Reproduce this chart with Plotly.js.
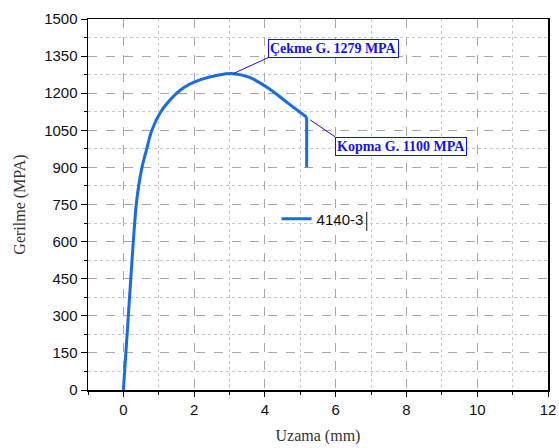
<!DOCTYPE html>
<html>
<head>
<meta charset="utf-8">
<script src="https://cdn.plot.ly/plotly-3.0.1.min.js"></script>
<style>html,body{margin:0;padding:0;background:#fff;}#chart{width:559px;height:448px;}</style>
</head>
<body>
<div id="chart"></div>
<script>
// Data
const seriesName = "4140-3";
const uzama = [0, 0.14, 0.28, 0.38, 0.52, 0.66, 0.80, 1.04, 1.32, 1.70, 2.20, 2.70, 3.10, 3.55, 4.10, 4.65, 5.18, 5.18];
const gerilme = [0, 300, 600, 770, 896, 975, 1048, 1121, 1173, 1222, 1256, 1274, 1279, 1265, 1220, 1160, 1103, 900];
const cekme = {x: 3.1, y: 1279, label: "Çekme G. 1279 MPA"};
const kopma = {x: 5.28, y: 1092, label: "Kopma G. 1100 MPA"};
const xTitle = "Uzama (mm)";
const yTitle = "Gerilme (MPA)";

const blue = "#1a6be0";
const annBlue = "#1414e6";

const n = uzama.length;
const traceMain = {
  x: uzama.slice(0, n - 1), y: gerilme.slice(0, n - 1), type: "scatter", mode: "lines", name: seriesName,
  line: {color: blue, width: 3, shape: "spline", smoothing: 1}, legendgroup: "a"
};
const traceDrop = {
  x: uzama.slice(n - 2), y: gerilme.slice(n - 2), type: "scatter", mode: "lines", name: seriesName,
  line: {color: blue, width: 3}, showlegend: false, legendgroup: "a"
};

const annFont = {family: "Liberation Serif, Times New Roman, serif", size: 14, color: annBlue, weight: "bold"};

const layout = {
  width: 559, height: 448,
  margin: {l: 88, r: 11, t: 19, b: 58},
  paper_bgcolor: "#fff", plot_bgcolor: "#fff",
  font: {family: "Liberation Sans, Arial, sans-serif", size: 15, color: "#111"},
  showlegend: true,
  legend: {x: 0.41, xanchor: "left", y: 0.461, yanchor: "middle", bgcolor: "rgba(0,0,0,0)",
           font: {family: "Liberation Sans, Arial, sans-serif", size: 15, color: "#111"}},
  xaxis: {
    range: [-1, 12], tick0: 0, dtick: 2, ticks: "outside", ticklen: 5, tickcolor: "#000",
    showline: true, linecolor: "#000", linewidth: 1.5, mirror: true,
    showgrid: true, gridcolor: "#a8a8a8", griddash: "dash", gridwidth: 1, zeroline: false,
    minor: {dtick: 1, ticks: "outside", ticklen: 3, tickcolor: "#000", showgrid: true, gridcolor: "#c8c8c8", griddash: "dot"},
    title: {text: xTitle, font: {family: "Liberation Serif, Times New Roman, serif", size: 16, color: "#333"}, standoff: 13}
  },
  yaxis: {
    range: [0, 1500], tick0: 0, dtick: 150, ticks: "outside", ticklen: 6, tickcolor: "#000",
    showline: true, linecolor: "#000", linewidth: 1.5, mirror: true,
    showgrid: true, gridcolor: "#a8a8a8", griddash: "dash", gridwidth: 1, zeroline: false,
    minor: {dtick: 75, ticks: "outside", ticklen: 3, tickcolor: "#000", showgrid: true, gridcolor: "#c8c8c8", griddash: "dot"},
    title: {text: yTitle, font: {family: "Liberation Serif, Times New Roman, serif", size: 16, color: "#333"}, standoff: 14}
  },
  annotations: [
    {x: cekme.x, y: cekme.y, xref: "x", yref: "y", text: cekme.label, showarrow: true,
     arrowhead: 0, arrowwidth: 1, arrowcolor: annBlue, ax: 35, ay: -16,
     xanchor: "left", yanchor: "bottom", bordercolor: annBlue, borderwidth: 1, borderpad: 1,
     bgcolor: "#fff", font: annFont},
    {x: kopma.x, y: kopma.y, xref: "x", yref: "y", text: kopma.label, showarrow: true,
     arrowhead: 0, arrowwidth: 1, arrowcolor: annBlue, ax: 25, ay: 17,
     xanchor: "left", yanchor: "top", bordercolor: annBlue, borderwidth: 1, borderpad: 1,
     bgcolor: "#fff", font: annFont}
  ],
  shapes: [
    {type: "line", xref: "paper", yref: "paper", x0: 0.606, x1: 0.606, y0: 0.429, y1: 0.48,
     line: {color: "#111", width: 1}}
  ]
};

Plotly.newPlot("chart", [traceMain, traceDrop], layout, {displayModeBar: false, staticPlot: true});
</script>
</body>
</html>
